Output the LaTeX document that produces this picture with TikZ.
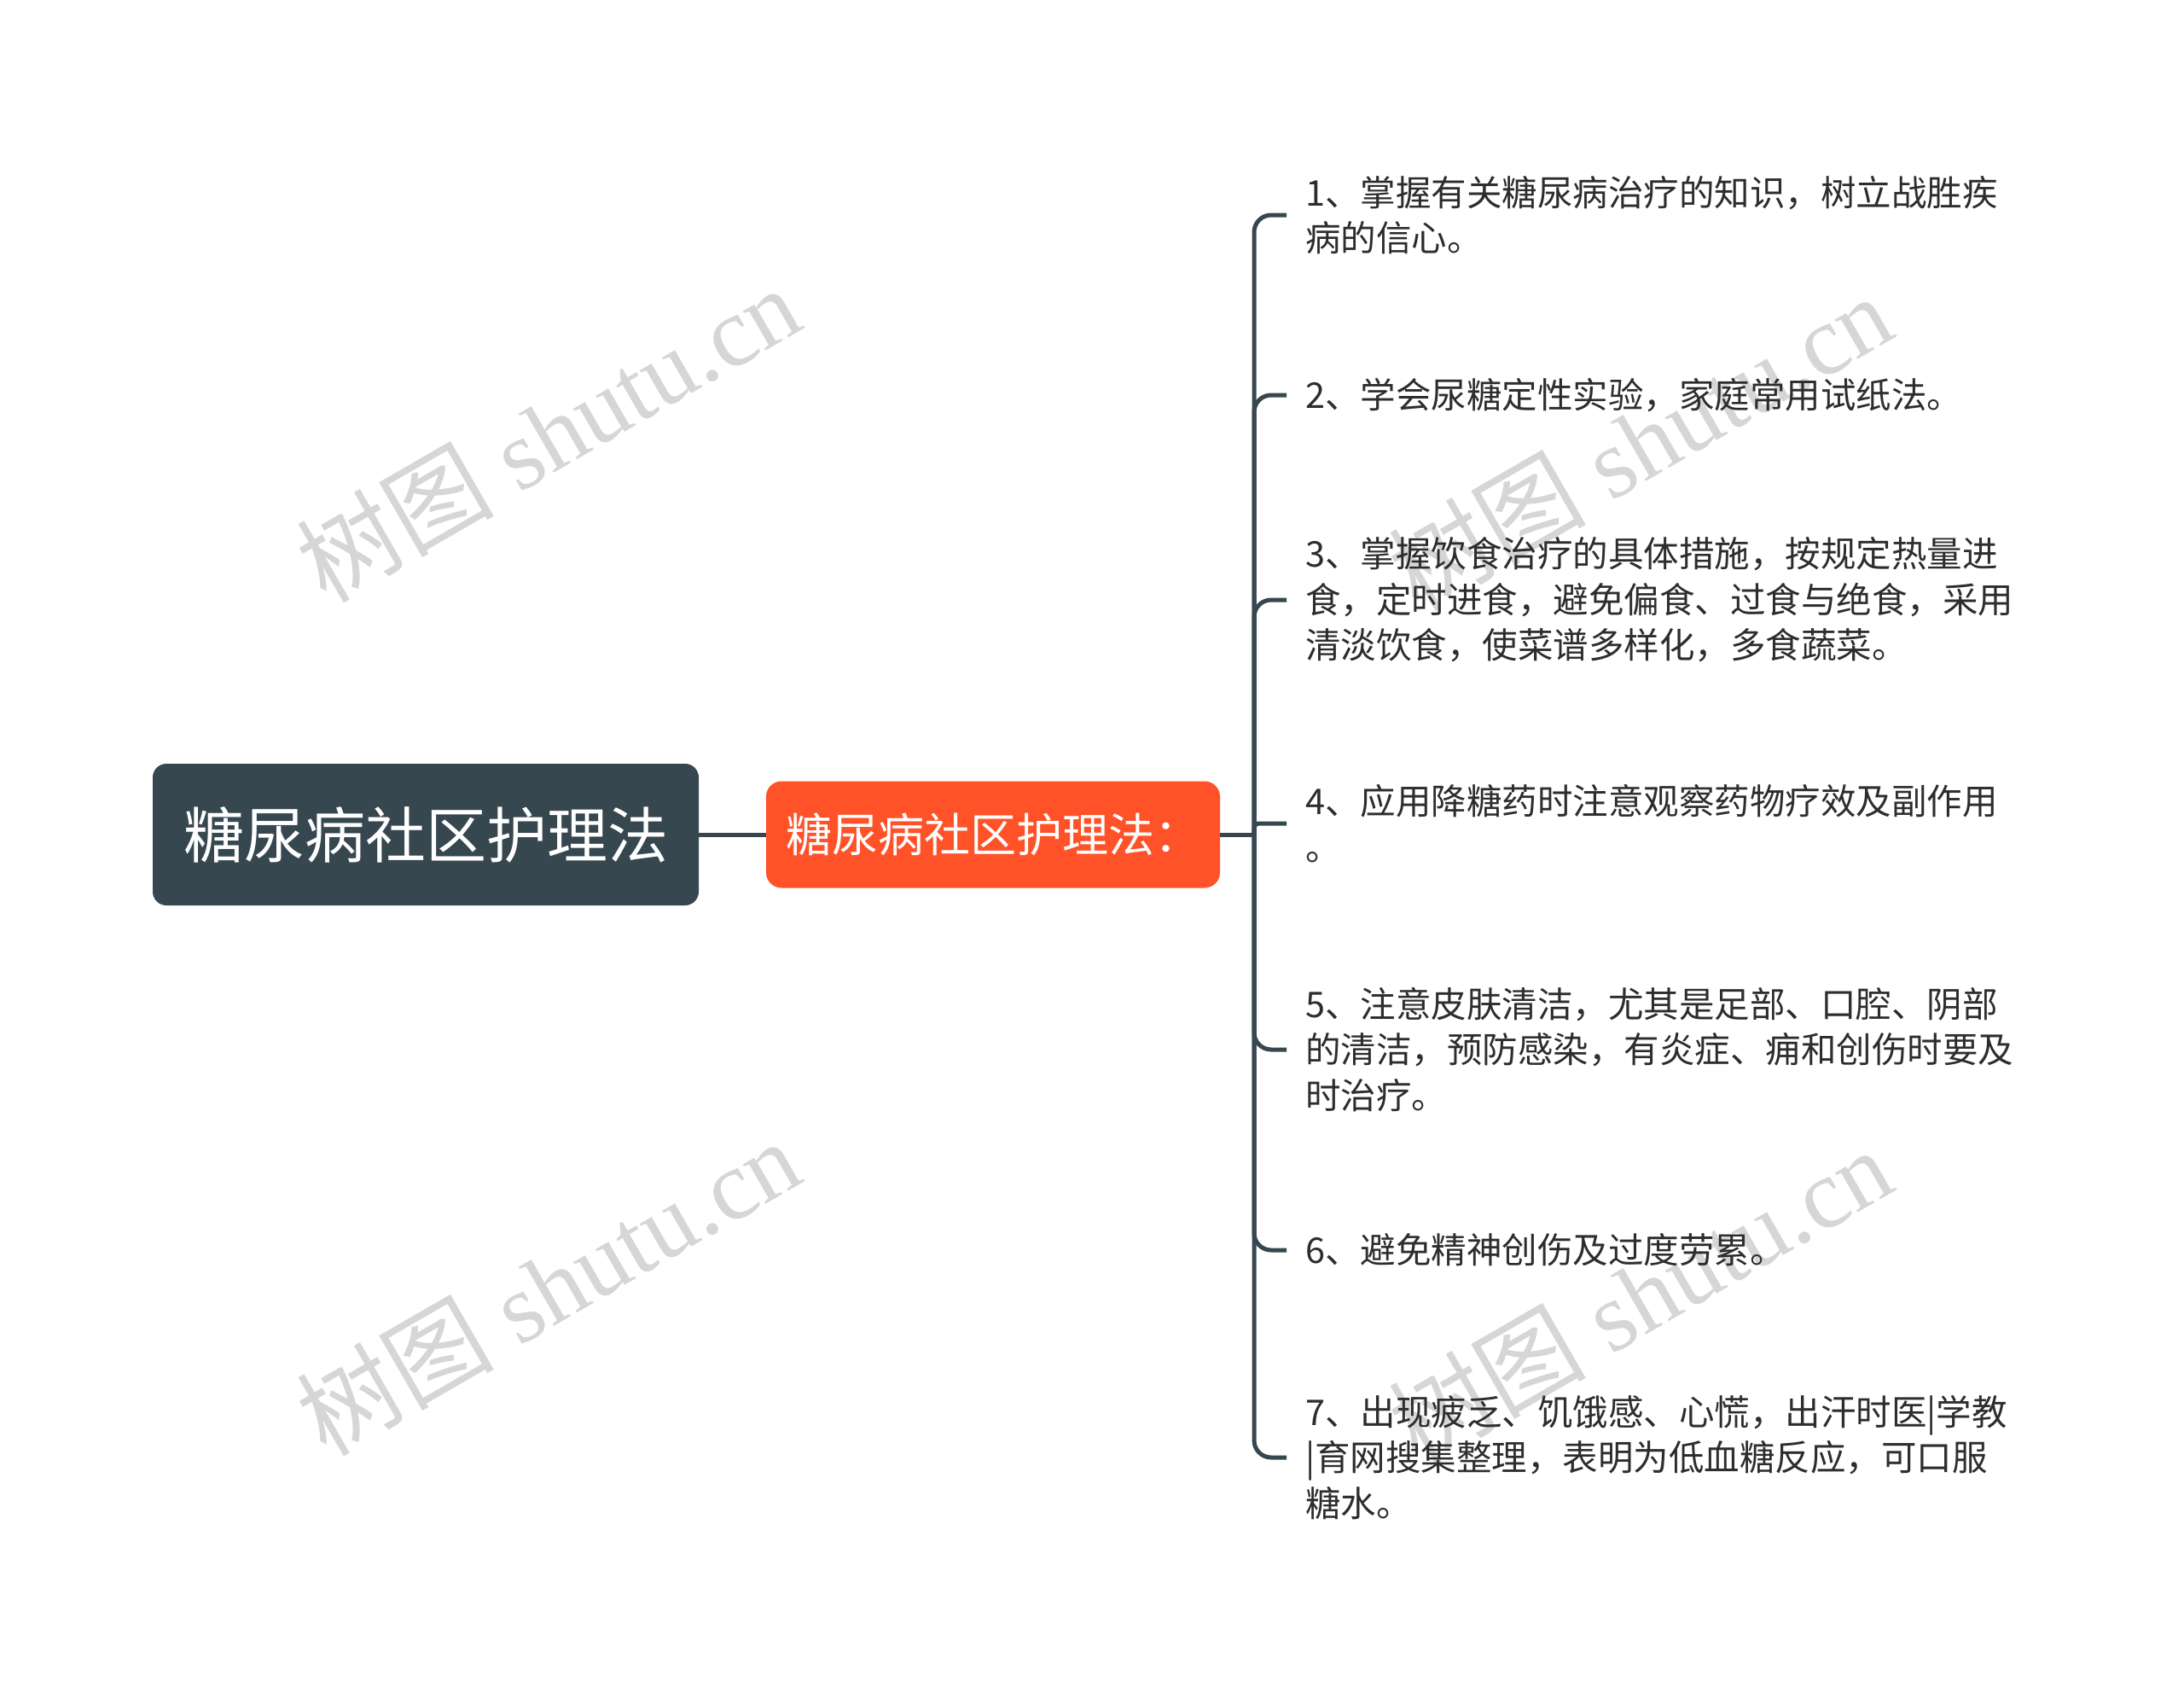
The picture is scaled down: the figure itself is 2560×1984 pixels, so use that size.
\documentclass[tikz,border=0pt]{standalone}
\usepackage{fontspec}
\newfontfamily\cjk{Noto Sans CJK SC}
\newfontfamily\wmserif{Liberation Serif}
\definecolor{rootc}{RGB}{55,71,79}
\definecolor{subc}{RGB}{255,82,41}
\definecolor{linec}{RGB}{55,71,79}
\definecolor{leaftext}{RGB}{45,45,45}
\definecolor{wmc}{RGB}{214,214,214}
\begin{document}
\begin{tikzpicture}[x=1pt,y=-1pt,
  rootbox/.style={fill=rootc, rounded corners=16pt, minimum width=640pt, minimum height=166pt,
    inner sep=0pt, text=white, font=\cjk\fontsize{71}{85}\selectfont},
  subbox/.style={fill=subc, rounded corners=18pt, minimum width=532pt, minimum height=125pt,
    inner sep=0pt, text=white, font=\cjk\fontsize{54}{65}\selectfont},
  leaf/.style={anchor=west, inner sep=0pt, align=left, text=leaftext,
    font=\cjk\fontsize{41.5}{53.5}\selectfont},
  conn/.style={draw=linec, line width=5pt},
  wm/.style={text=wmc, rotate=30, inner sep=0pt, font=\wmserif\fontsize{116}{134}\selectfont}
]
\useasboundingbox[fill=white] (0,0) rectangle (2560,1984);

% watermarks
\node[wm] (wm1) at (642,508) {{\cjk 树图} shutu.cn};
\node[wm] (wm2) at (1922,518) {{\cjk 树图} shutu.cn};
\node[wm] (wm3) at (642,1508) {{\cjk 树图} shutu.cn};
\node[wm] (wm4) at (1922,1518) {{\cjk 树图} shutu.cn};

% main nodes
\node[rootbox] (root) at (499,978) {糖尿病社区护理法};
\node[subbox] (sub) at (1164,978) {糖尿病社区护理法：};
\coordinate (j) at (1470,978);

% leaves
\node[leaf] (l1) at (1530,252) {1、掌握有关糖尿病治疗的知识，树立战胜疾\\病的信心。};
\node[leaf] (l2) at (1530,463) {2、学会尿糖定性实验，家庭常用试纸法。};
\node[leaf] (l3) at (1530,703) {3、掌握饮食治疗的具体措施，按规定热量进\\食，定时进食，避免偏食、过食与绝食，采用\\清淡饮食，使菜谱多样化，多食蔬菜。};
\node[leaf] (l4) at (1530,965) {4、应用降糖药时注意观察药物疗效及副作用\\。};
\node[leaf] (l5) at (1530,1230) {5、注意皮肤清洁，尤其是足部、口腔、阴部\\的清洁，预防感染，有炎症、痈和创伤时要及\\时治疗。};
\node[leaf] (l6) at (1530,1465) {6、避免精神创伤及过度劳累。};
\node[leaf] (l7) at (1530,1708) {7、出现疲乏、饥饿感、心慌，出汗时医|学教\\|育网搜集整理，表明为低血糖反应，可口服\\糖水。};

% connectors
\draw[conn] (root.east) -- (sub.west);
\draw[conn] (sub.east) -- (j);
\draw[conn, rounded corners=20pt] (j) |- ([xshift=-22pt]l1.west);
\draw[conn, rounded corners=20pt] (j) |- ([xshift=-22pt]l2.west);
\draw[conn, rounded corners=20pt] (j) |- ([xshift=-22pt]l3.west);
\draw[conn, rounded corners=5pt] (j) |- ([xshift=-22pt]l4.west);
\draw[conn, rounded corners=20pt] (j) |- ([xshift=-22pt]l5.west);
\draw[conn, rounded corners=20pt] (j) |- ([xshift=-22pt]l6.west);
\draw[conn, rounded corners=20pt] (j) |- ([xshift=-22pt]l7.west);
\end{tikzpicture}
\end{document}
